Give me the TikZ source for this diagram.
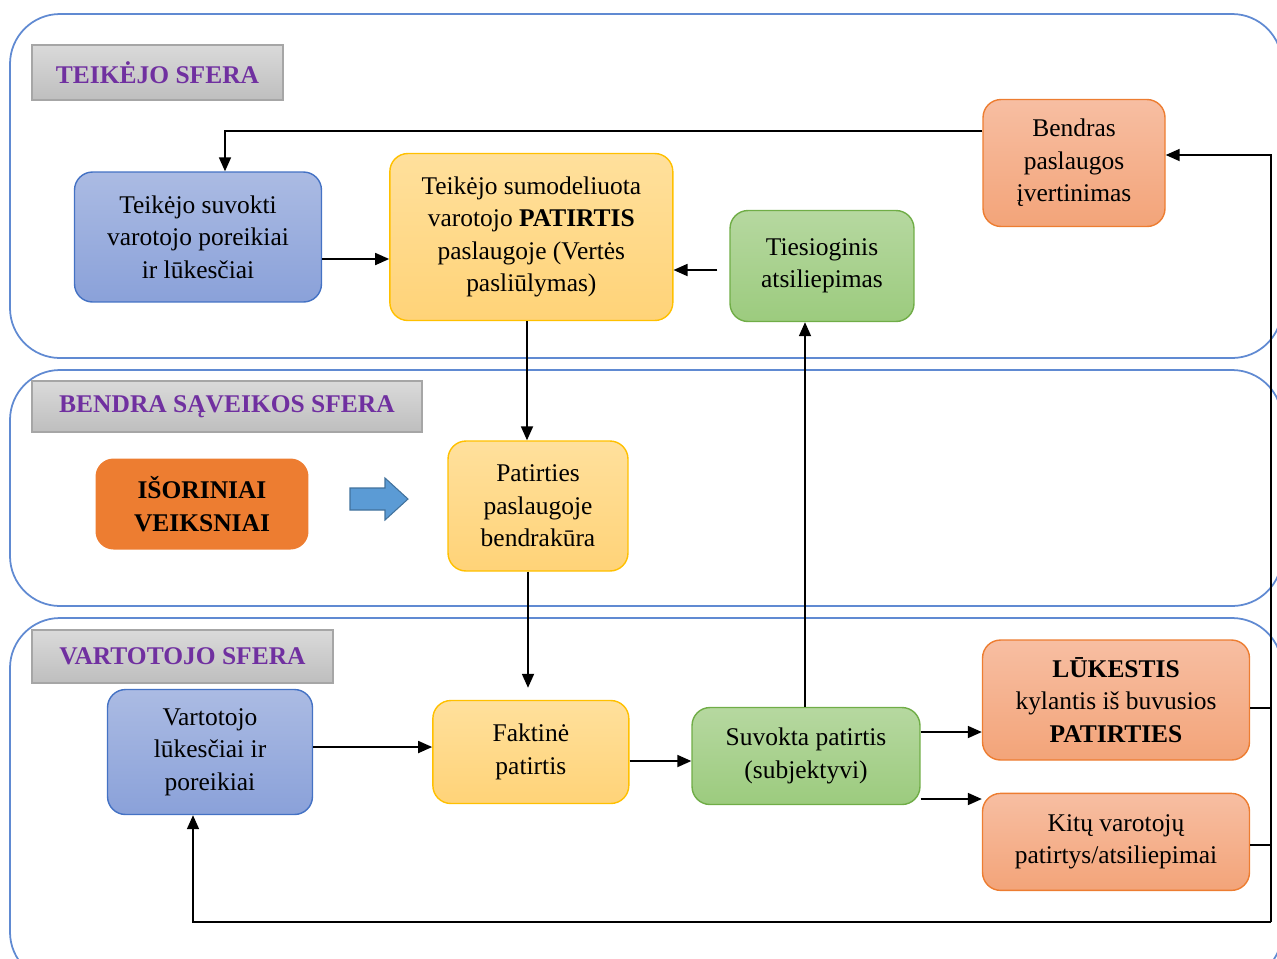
\documentclass[tikz,border=0pt]{standalone}
\usepackage{fontspec}
\setmainfont{Liberation Serif}
\usepackage{tikz}
\usetikzlibrary{arrows.meta,positioning,calc}
\definecolor{sferaline}{RGB}{96,138,210}
\definecolor{bluedraw}{RGB}{68,114,196}
\definecolor{bluetop}{RGB}{171,187,227}
\definecolor{bluebot}{RGB}{138,161,217}
\definecolor{yeldraw}{RGB}{255,192,0}
\definecolor{yeltop}{RGB}{255,224,156}
\definecolor{yelbot}{RGB}{255,211,120}
\definecolor{grndraw}{RGB}{112,173,71}
\definecolor{grntop}{RGB}{182,216,160}
\definecolor{grnbot}{RGB}{156,203,126}
\definecolor{saldraw}{RGB}{237,125,49}
\definecolor{saltop}{RGB}{247,190,162}
\definecolor{salbot}{RGB}{243,164,121}
\definecolor{orng}{RGB}{237,125,49}
\definecolor{arrblue}{RGB}{91,155,213}
\definecolor{arrbluedraw}{RGB}{65,113,156}
\definecolor{hdtop}{RGB}{218,218,218}
\definecolor{hdbot}{RGB}{190,190,190}
\definecolor{hddraw}{RGB}{166,166,166}
\definecolor{purp}{RGB}{112,48,160}

\begin{document}
\begin{tikzpicture}[x=0.02cm,y=-0.02cm,font=\fontsize{14.5}{18.5}\selectfont]
\tikzset{b/.style={rounded corners=0.36cm,line width=0.8pt,align=center,inner sep=1pt},
  mel/.style={b,draw=bluedraw,top color=bluetop,bottom color=bluebot},
  gel/.style={b,draw=yeldraw,top color=yeltop,bottom color=yelbot},
  zal/.style={b,draw=grndraw,top color=grntop,bottom color=grnbot},
  lsz/.style={b,draw=saldraw,top color=saltop,bottom color=salbot},
  hd/.style={draw=hddraw,line width=0.8pt,top color=hdtop,bottom color=hdbot,text=purp,font=\fontsize{14.5}{18.5}\selectfont\bfseries},
  sf/.style={draw=sferaline,line width=1pt,rounded corners=1cm},
  arr/.style={-{Triangle[length=0.28cm,width=0.24cm]},line width=1pt}}
\useasboundingbox (0,0) rectangle (1277,958);
\clip (0,0) rectangle (1277,958);

\draw[sf] (10,14) rectangle (1282,358);
\draw[sf] (10,370) rectangle (1282,606);
\draw[sf] (10,618) rectangle (1282,982);

\node[hd,minimum width=5.02cm,minimum height=1.1cm] (h1) at (157.5,72.5) {TEIKĖJO SFERA};
\node[hd,minimum width=7.8cm,minimum height=1.02cm] (h2) at (227,406.5) {BENDRA SĄVEIKOS SFERA};
\node[hd,minimum width=6.02cm,minimum height=1.06cm] (h3) at (182.5,656.5) {VARTOTOJO SFERA};

\node[mel,minimum width=4.94cm,minimum height=2.6cm] (sus) at (198,237) {Teikėjo suvokti\\varotojo poreikiai\\ir lūkesčiai};
\node[gel,minimum width=5.66cm,minimum height=3.34cm,right=1.34cm of sus] (mod) {Teikėjo sumodeliuota\\varotojo \textbf{PATIRTIS}\\paslaugoje (Vertės\\pasliūlymas)};
\node[zal,minimum width=3.68cm,minimum height=2.22cm] (tie) at (822,266) {Tiesioginis\\atsiliepimas};
\node[lsz,minimum width=3.64cm,minimum height=2.54cm] (ben) at (1074,163) {Bendras\\paslaugos\\įvertinimas};

\node[b,fill=orng,minimum width=4.26cm,minimum height=1.82cm,font=\fontsize{14.5}{18.5}\selectfont\bfseries] (iso) at (202,504) {IŠORINIAI\\VEIKSNIAI};
\node[gel,minimum width=3.6cm,minimum height=2.6cm] (bkr) at (538,506) {Patirties\\paslaugoje\\bendrakūra};
\filldraw[fill=arrblue,draw=arrbluedraw,line width=0.6pt] (350,488) -- (385,488) -- (385,478) -- (408,499) -- (385,520) -- (385,510) -- (350,510) -- cycle;

\node[mel,minimum width=4.1cm,minimum height=2.5cm] (var) at (210,752) {Vartotojo\\lūkesčiai ir\\poreikiai};
\node[gel,minimum width=3.92cm,minimum height=2.06cm,right=2.38cm of var] (fak) {Faktinė\\patirtis};
\node[zal,minimum width=4.56cm,minimum height=1.94cm] (suv) at (806,756) {Suvokta patirtis\\(subjektyvi)};
\node[lsz,minimum width=5.34cm,minimum height=2.4cm] (luk) at (1116,700) {\textbf{LŪKESTIS}\\kylantis iš buvusios\\\textbf{PATIRTIES}};
\node[lsz,minimum width=5.34cm,minimum height=1.94cm,below=0.64cm of luk] (kit) {Kitų varotojų\\patirtys/atsiliepimai};

\coordinate (rb) at (1271,922);

\draw[arr] (sus.east |- 0,259) -- (mod.west |- 0,259);
\draw[arr,shorten <=0.24cm] (tie.west |- 0,270) -- (mod.east |- 0,270);
\draw[arr] (ben.west |- 0,131) -| (225,0 |- sus.north);
\draw[arr] (527,0 |- mod.south) -- (527,0 |- bkr.north);
\draw[arr,shorten >=0.24cm] (528,0 |- bkr.south) -- (528,0 |- fak.north);
\draw[arr] (var.east |- 0,747) -- (fak.west |- 0,747);
\draw[arr] (fak.east |- 0,761) -- (suv.west |- 0,761);
\draw[arr] (805,0 |- suv.north) -- (805,0 |- tie.south);
\draw[arr] (suv.east |- 0,732) -- (luk.west |- 0,732);
\draw[arr] (suv.east |- 0,799) -- (kit.west |- 0,799);
\draw[line width=1pt] (luk.east |- 0,708) -- (rb |- 0,708);
\draw[line width=1pt] (kit.east |- 0,845) -- (rb |- 0,845);
\draw[arr] (rb) |- (ben.east |- 0,155);
\draw[arr] (rb) -| (193,0 |- var.south);
\end{tikzpicture}
\end{document}
